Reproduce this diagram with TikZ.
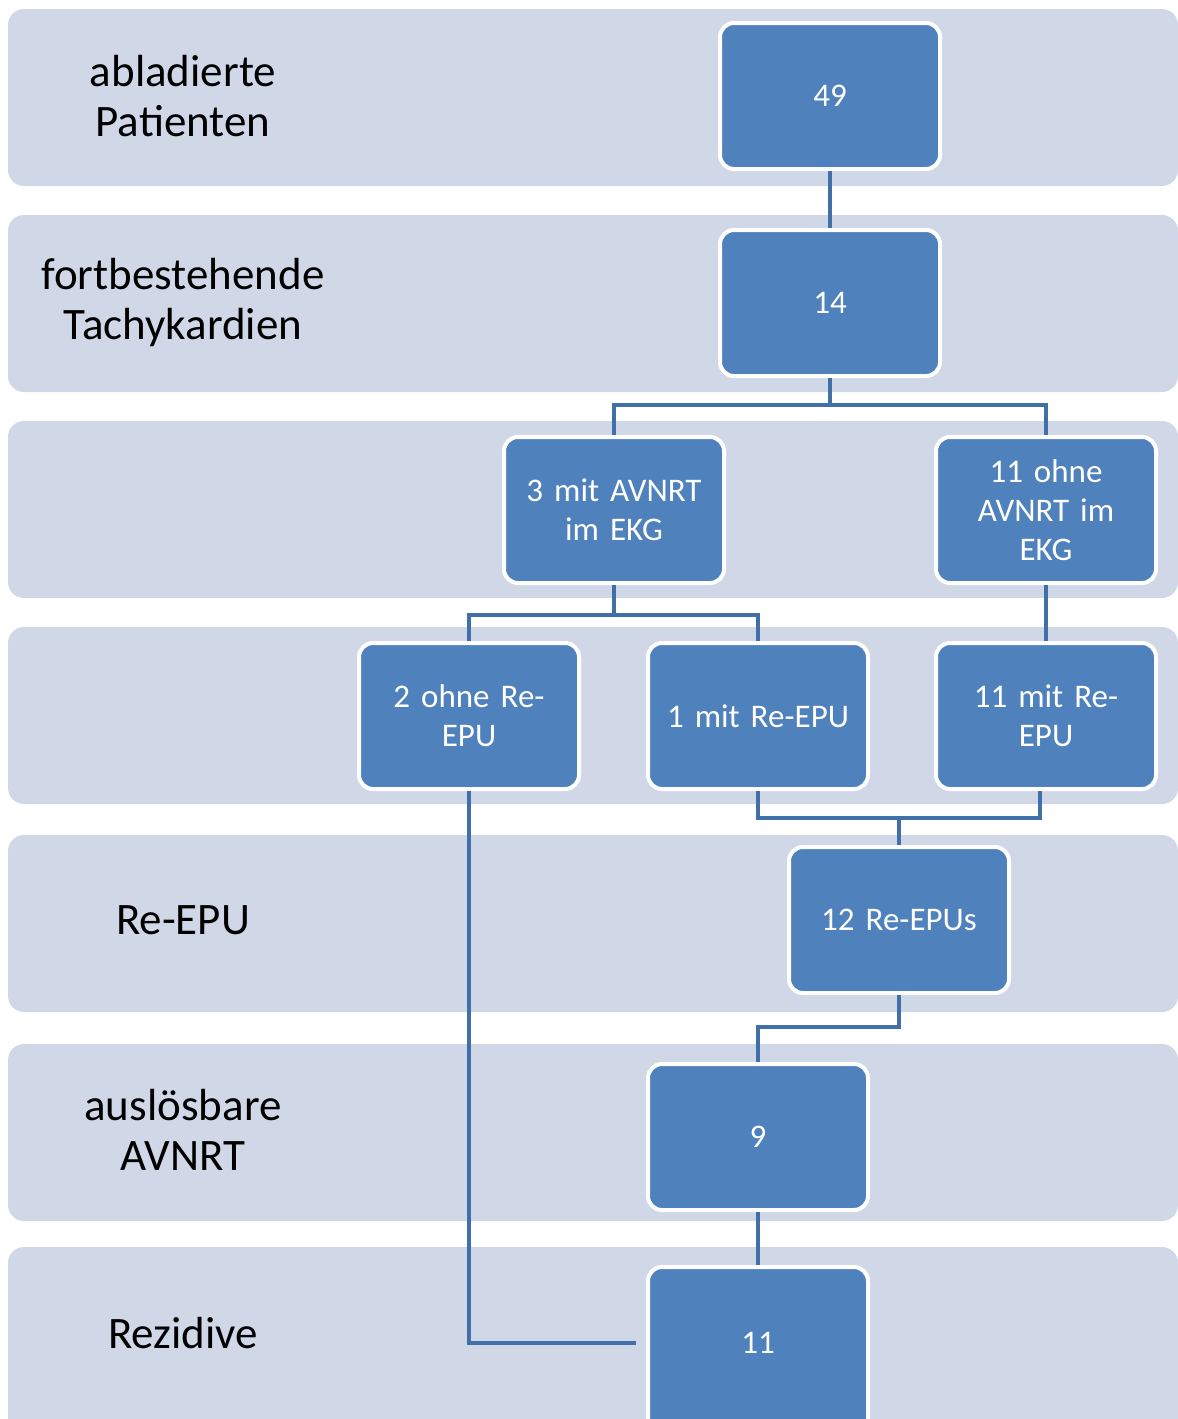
\documentclass[tikz,border=0pt]{standalone}
\usepackage{fontspec}
\setmainfont{Carlito}
\definecolor{bandc}{HTML}{D0D8E8}
\definecolor{boxc}{HTML}{4F81BD}
\definecolor{linec}{HTML}{4170A8}
\begin{document}
\begin{tikzpicture}[x=1pt,y=-1pt,
  band/.style={fill=bandc,draw=none,rounded corners=16pt},
  lbl/.style={align=center,font=\fontsize{45}{50}\selectfont,text=black},
  flowbox/.style={draw=white,line width=4pt,fill=boxc,rounded corners=14pt,
    minimum width=220pt,minimum height=146pt,align=center,text width=200pt,
    text=white,font=\fontsize{33}{39}\selectfont,inner sep=0pt},
  conn/.style={draw=linec,line width=4pt}]
\useasboundingbox (0,0) rectangle (1178,1419);
\clip (0,0) rectangle (1178,1419);
% bands
\foreach \t in {9,215,421,627,835,1044}{
  \path[band] (8,\t) rectangle (1178,\t+177);
}
\path[band] (8,1247) rectangle (1178,1460);
% labels
\node[lbl] (l1) at (183,96) {abladierte\\Patienten};
\node[lbl] (l2) at (183,302) {fortbestehende\\Tachykardien};
\node[lbl] (l5) at (183,920) {Re-EPU};
\node[lbl] (l6) at (183,1130) {auslösbare\\AVNRT};
\node[lbl] (l7) at (183,1333) {Rezidive};
% junction points
\coordinate (j1) at (830,405);
\coordinate (j2) at (614,615);
\coordinate (j3) at (899,818);
\coordinate (j4) at (758,1027);
% boxes
\node[flowbox] (b49) at (830,96) {49};
\node[flowbox] (b14) at (830,303) {14};
\node[flowbox] (b3mit) at (614,510) {3 mit AVNRT\\im EKG};
\node[flowbox] (b11ohne) at (1046,510) {11 ohne\\AVNRT im\\EKG};
\node[flowbox] (b2ohne) at (469,716) {2 ohne Re-\\EPU};
\node[flowbox] (b1mit) at (758,716) {1 mit Re-EPU};
\node[flowbox] (b11mit) at (1046,716) {11 mit Re-\\EPU};
\node[flowbox] (b12) at (899,920) {12 Re-EPUs};
\node[flowbox] (b9) at (758,1137) {9};
\node[flowbox,minimum height=170pt,text height=12pt,text depth=9pt] (b11) at (758,1352) {11};
% connectors
\draw[conn] (b49.south) -- (b14.north);
\draw[conn] (b14.south) -- (j1);
\draw[conn] (b3mit.north) |- (j1) -| (b11ohne.north);
\draw[conn] (b3mit.south) -- (j2);
\draw[conn] (b2ohne.north) |- (j2) -| (b1mit.north);
\draw[conn] (b11ohne.south) -- (b11mit.north);
\draw[conn] (b1mit.south) |- (j3) -| ([xshift=-6pt]b11mit.south);
\draw[conn] (j3) -- (b12.north);
\draw[conn] (b12.south) |- (j4) -| (b9.north);
\draw[conn] (b9.south) -- (b11.north);
\draw[conn,shorten >=10pt] (b2ohne.south) |- ([yshift=9pt]b11.west);
\end{tikzpicture}
\end{document}
